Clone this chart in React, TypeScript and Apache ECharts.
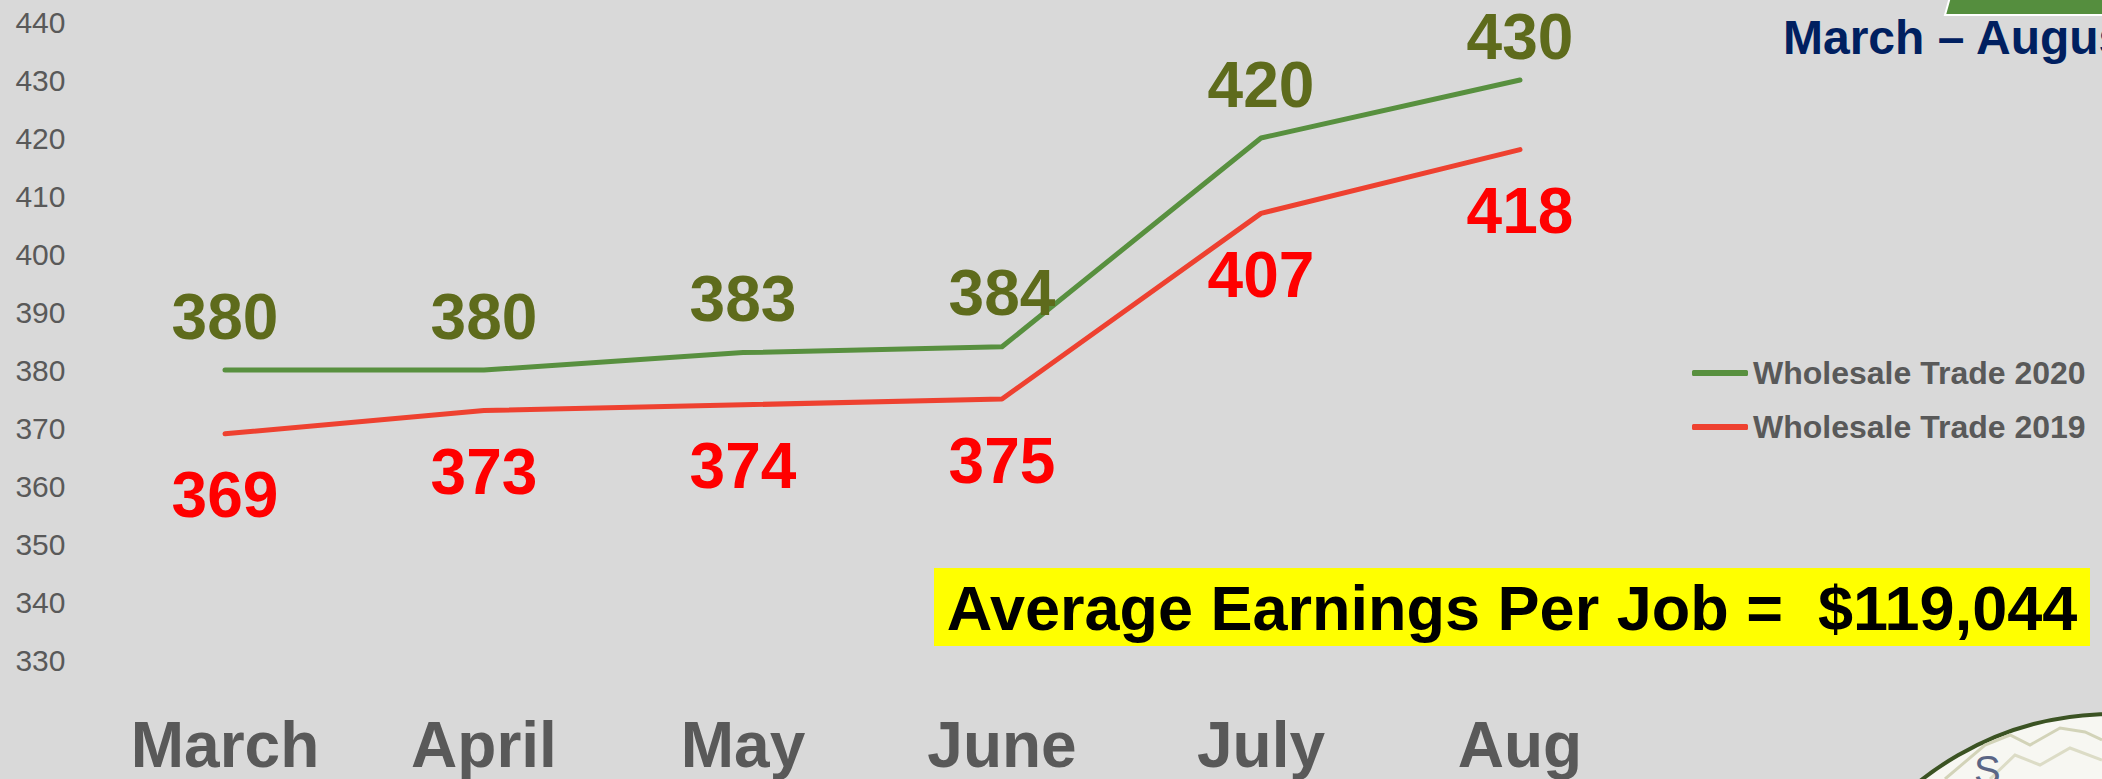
import React, { useEffect, useRef } from "react";
import * as echarts from "echarts";

const months = ["March", "April", "May", "June", "July", "Aug"];
const trade2020 = [380, 380, 383, 384, 420, 430];
const trade2019 = [369, 373, 374, 375, 407, 418];
const yTicks = { min: 330, max: 440, interval: 10 };
const seriesNames = ["Wholesale Trade 2020", "Wholesale Trade 2019"];
const titleText = "March – August 2020";
const noteText = "Average Earnings Per Job =  $119,044";

const FONT = "'Liberation Sans', Arial, sans-serif";

export default function App() {
  const ref = useRef<HTMLDivElement>(null);
  useEffect(() => {
    if (!ref.current) return;
    const chart = echarts.init(ref.current, undefined, { renderer: "svg" });
    const lastIdx = trade2020.length - 1;
    chart.setOption({
      animation: false,
      backgroundColor: "#D9D9D9",
      textStyle: { fontFamily: FONT },
      grid: { left: 95.5, right: 452.5, top: 22, bottom: 119 },
      legend: {
        orient: "vertical",
        left: 1687,
        top: 352,
        icon: "roundRect",
        itemWidth: 56,
        itemHeight: 6,
        itemGap: 22,
        data: seriesNames,
        textStyle: {
          fontFamily: FONT,
          fontSize: 32,
          lineHeight: 32,
          fontWeight: "bold",
          color: "#595959",
        },
      },
      xAxis: {
        type: "category",
        data: months,
        boundaryGap: true,
        axisLine: { show: false },
        axisTick: { show: false },
        axisLabel: {
          margin: 58,
          fontFamily: FONT,
          fontSize: 64,
          lineHeight: 54,
          fontWeight: "bold",
          color: "#595959",
        },
      },
      yAxis: {
        type: "value",
        min: yTicks.min,
        max: yTicks.max,
        interval: yTicks.interval,
        axisLine: { show: false },
        axisTick: { show: false },
        splitLine: { show: false },
        axisLabel: {
          margin: 30,
          fontFamily: FONT,
          fontSize: 30,
          color: "#595959",
        },
      },
      series: [
        {
          name: seriesNames[0],
          type: "line",
          data: trade2020.map((v, i) =>
            i === lastIdx ? { value: v, label: { distance: 11 } } : v
          ),
          symbol: "circle",
          symbolSize: 1,
          showSymbol: true,
          itemStyle: { color: "#58903F" },
          lineStyle: { color: "#58903F", width: 5, cap: "round", join: "round" },
          label: {
            show: true,
            position: "top",
            distance: 21,
            fontFamily: FONT,
            fontSize: 64,
            lineHeight: 64,
            fontWeight: "bold",
            color: "#5E6B1C",
          },
          z: 3,
        },
        {
          name: seriesNames[1],
          type: "line",
          data: trade2019,
          symbol: "circle",
          symbolSize: 1,
          showSymbol: true,
          itemStyle: { color: "#EE4130" },
          lineStyle: { color: "#EE4130", width: 5, cap: "round", join: "round" },
          label: {
            show: true,
            position: "bottom",
            distance: 29,
            fontFamily: FONT,
            fontSize: 64,
            lineHeight: 64,
            fontWeight: "bold",
            color: "#FF0000",
          },
          z: 3,
        },
      ],
      graphic: [
        {
          type: "polygon",
          shape: { points: [[1950, -3], [2110, -3], [2110, 15], [1945, 15]] },
          style: { fill: "#558E3E", stroke: "#FFFFFF", lineWidth: 2 },
          z: 10,
        },
        {
          type: "text",
          left: 1783,
          top: 13,
          style: {
            text: titleText,
            fontFamily: FONT,
            fontSize: 48,
            fontWeight: "bold",
            fill: "#002060",
          },
          z: 10,
        },
        {
          type: "rect",
          shape: { x: 934, y: 568, width: 1156, height: 78 },
          style: { fill: "#FFFF00" },
          z: 10,
        },
        {
          type: "text",
          x: 1512,
          y: 608,
          style: {
            text: noteText,
            fontFamily: FONT,
            fontSize: 63,
            fontWeight: "bold",
            fill: "#000000",
            align: "center",
            verticalAlign: "middle",
          },
          z: 11,
        },
        {
          type: "circle",
          shape: { cx: 2112, cy: 1022, r: 308 },
          style: { fill: "#F7F7F2", stroke: "#3B5323", lineWidth: 4 },
          z: 10,
        },
        {
          type: "polyline",
          shape: {
            points: [[1945, 779], [1985, 745], [2010, 735], [2030, 745], [2060, 728], [2085, 732], [2102, 740]],
          },
          style: { stroke: "#D2D3B8", lineWidth: 3, fill: "none" },
          z: 11,
        },
        {
          type: "polyline",
          shape: { points: [[1990, 779], [2015, 755], [2040, 765], [2070, 748], [2102, 760]] },
          style: { stroke: "#DCDCC6", lineWidth: 3, fill: "none" },
          z: 11,
        },
        {
          type: "text",
          left: 1974,
          top: 750,
          style: {
            text: "S",
            fontFamily: FONT,
            fontSize: 40,
            lineHeight: 28,
            fill: "#5A6585",
          },
          z: 12,
        },
      ],
    });
    return () => chart.dispose();
  }, []);
  return (
    <div
      ref={ref}
      style={{ position: "fixed", left: 0, top: 0, width: 2102, height: 779 }}
    />
  );
}
